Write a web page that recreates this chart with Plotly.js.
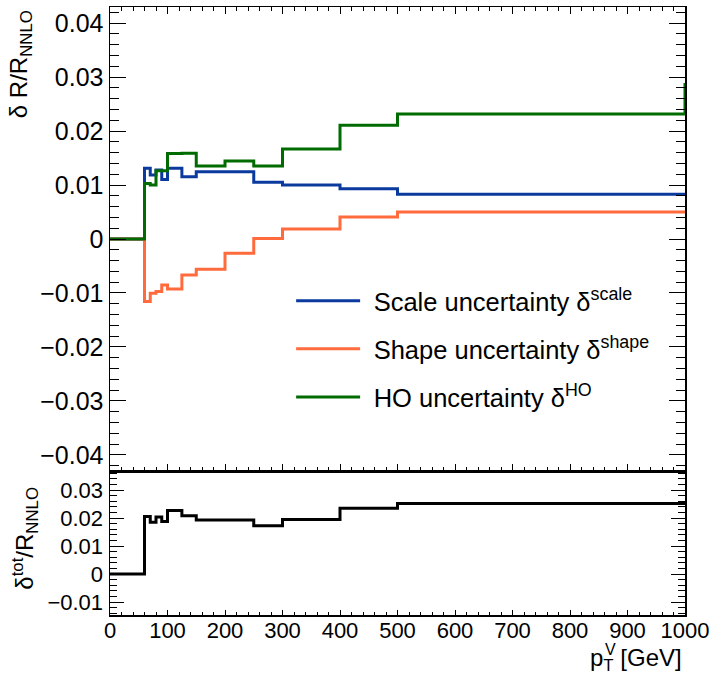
<!DOCTYPE html>
<html>
<head>
<meta charset="utf-8">
<script src="https://cdn.plot.ly/plotly-3.0.1.min.js"></script>
<style>html,body{margin:0;padding:0;background:#fff;}#plot{width:712px;height:674px;}</style>
</head>
<body>
<div id="plot"></div>
<script>
// Bin edges of p_T^V [GeV]
const binEdges = [0, 60, 70, 80, 90, 100, 125, 150, 200, 250, 300, 400, 500, 1000];
// Relative uncertainties per bin (13 bins)
const scaleUnc = [0, 0.0131, 0.01185, 0.0128, 0.01105, 0.0131, 0.01154, 0.01247, 0.01247, 0.0105, 0.0100, 0.0093, 0.0083];
const shapeUnc = [0, -0.0116, -0.01006, -0.00975, -0.0085, -0.00926, -0.00667, -0.00562, -0.00265, 0.0001, 0.00185, 0.0041, 0.0050];
const hoUnc    = [0, 0.0103, 0.0100, 0.01265, 0.01265, 0.01587, 0.0159, 0.01352, 0.01444, 0.01352, 0.01667, 0.0211, 0.02315];
const hoEndValue = 0.0289; // closing edge drawn at the last bin boundary
const totUnc   = [0, 0.0206, 0.0185, 0.0204, 0.0188, 0.0227, 0.0208, 0.0193, 0.0193, 0.0173, 0.0195, 0.0235, 0.0252];

const legendNames = ["\u2004Scale uncertainty δ<sup>scale</sup>", "\u2004Shape uncertainty δ<sup>shape</sup>", "\u2004HO uncertainty δ<sup>HO</sup>"];
const colors = ["#0a3a9e", "#ff6b3d", "#006b00", "#000000"];

function stepX(edges){ return edges.slice(); }
function stepY(vals){ return vals.concat([vals[vals.length-1]]); }

const font = "Liberation Sans, Arial, Helvetica, sans-serif";

const traces = [
  {x: stepX(binEdges), y: stepY(scaleUnc), name: legendNames[0], legendgroup: "a",
   xaxis: "x2", yaxis: "y2", mode: "lines", line: {shape: "hv", color: colors[0], width: 3}},
  {x: stepX(binEdges), y: stepY(shapeUnc), name: legendNames[1], legendgroup: "b",
   xaxis: "x2", yaxis: "y2", mode: "lines", line: {shape: "hv", color: colors[1], width: 3}},
  {x: stepX(binEdges).concat([binEdges[binEdges.length-1]]), y: stepY(hoUnc).concat([hoEndValue]), name: legendNames[2], legendgroup: "c",
   xaxis: "x2", yaxis: "y2", mode: "lines", line: {shape: "hv", color: colors[2], width: 3}},
  {x: stepX(binEdges), y: stepY(totUnc), name: "total", showlegend: false,
   xaxis: "x", yaxis: "y", mode: "lines", line: {shape: "hv", color: colors[3], width: 3}}
];

const split = 0.2368;
const layout = {
  width: 712, height: 674,
  margin: {l: 110, r: 27, t: 7, b: 59},
  paper_bgcolor: "#fff", plot_bgcolor: "#fff",
  font: {family: font, color: "#000"},
  showlegend: true,
  legend: {x: 0.315, y: 0.555, xanchor: "left", yanchor: "top", bgcolor: "rgba(0,0,0,0)",
           font: {family: font, size: 25.5, color: "#000"}, tracegroupgap: 12, itemwidth: 64},
  xaxis: {domain: [0, 1], range: [0, 1000], anchor: "y", dtick: 100, tick0: 0,
          ticks: "inside", ticklen: 5, tickwidth: 1, tickcolor: "#000",
          minor: {dtick: 20, ticks: "inside", ticklen: 3, tickcolor: "#000"},
          showline: true, linecolor: "#000", linewidth: 1.5, mirror: true,
          showgrid: false, zeroline: false, ticklabelstandoff: -5,
          tickfont: {family: font, size: 22, color: "#000"}},
  yaxis: {domain: [0, split], range: [-0.0146, 0.0368], anchor: "x", dtick: 0.01, tick0: 0,
          ticks: "inside", ticklen: 14, tickwidth: 1, tickcolor: "#000",
          minor: {dtick: 0.002, ticks: "inside", ticklen: 7, tickcolor: "#000"},
          showline: true, linecolor: "#000", linewidth: 1.5, mirror: "allticks",
          showgrid: false, zeroline: false, ticklabelstandoff: 1,
          tickfont: {family: font, size: 22, color: "#000"}},
  xaxis2: {domain: [0, 1], range: [0, 1000], anchor: "y2", matches: "x", dtick: 100, tick0: 0,
          ticks: "inside", ticklen: 7, tickwidth: 1, tickcolor: "#000",
          minor: {dtick: 20, ticks: "inside", ticklen: 4, tickcolor: "#000"},
          showline: true, linecolor: "#000", linewidth: 1.5, mirror: "allticks",
          showgrid: false, zeroline: false, showticklabels: false},
  yaxis2: {domain: [split, 1], range: [-0.043, 0.043], anchor: "x2", dtick: 0.01, tick0: 0,
          ticks: "inside", ticklen: 16, tickwidth: 1, tickcolor: "#000",
          minor: {dtick: 0.002, ticks: "inside", ticklen: 9, tickcolor: "#000"},
          showline: true, linecolor: "#000", linewidth: 1.5, mirror: "allticks",
          showgrid: false, zeroline: false, ticklabelstandoff: 0,
          tickfont: {family: font, size: 25, color: "#000"}},
  annotations: [
    {text: "δ R/R<sub>NNLO</sub>", xref: "paper", yref: "paper", x: -0.1565, y: 0.906,
     xanchor: "center", yanchor: "middle", textangle: -90, showarrow: false,
     font: {family: font, size: 24, color: "#000"}},
    {text: "δ<sup>tot</sup>/R<sub>NNLO</sub>", xref: "paper", yref: "paper", x: -0.148, y: 0.127,
     xanchor: "center", yanchor: "middle", textangle: -90, showarrow: false,
     font: {family: font, size: 24, color: "#000"}},
    {text: "p<sub>T</sub> [GeV]", xref: "paper", yref: "paper", x: 0.998, y: -0.073,
     xanchor: "right", yanchor: "middle", showarrow: false,
     font: {family: font, size: 24, color: "#000"}},
    {text: "V", xref: "paper", yref: "paper", x: 0.871, y: -0.056,
     xanchor: "center", yanchor: "middle", showarrow: false,
     font: {family: font, size: 16, color: "#000"}}
  ]
};

Plotly.newPlot("plot", traces, layout, {staticPlot: true, displayModeBar: false});
</script>
</body>
</html>
